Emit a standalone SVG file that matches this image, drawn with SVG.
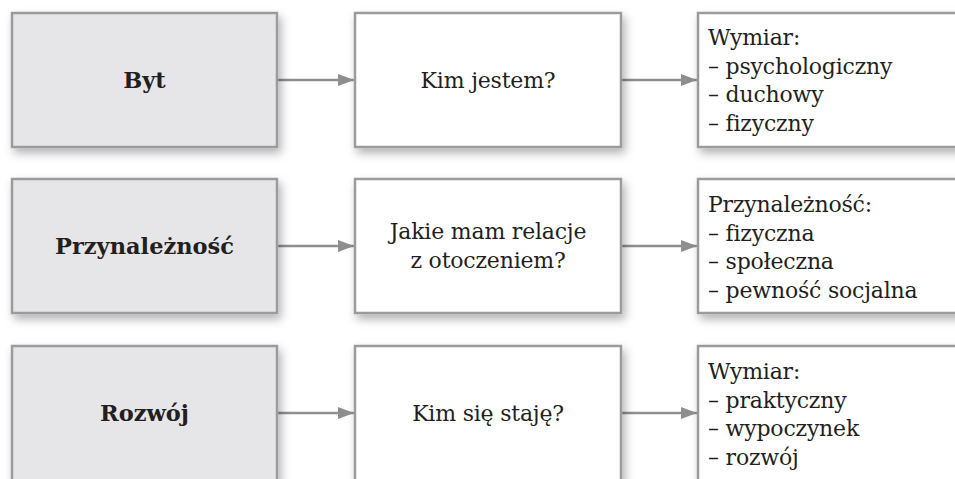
<svg xmlns="http://www.w3.org/2000/svg" width="955" height="479" viewBox="0 0 955 479">
<defs>
<filter id="sh" x="-10%" y="-10%" width="130%" height="140%">
<feDropShadow dx="3" dy="5" stdDeviation="5" flood-color="#000" flood-opacity="0.3"/>
</filter>
<marker id="ah" markerWidth="16" markerHeight="12" refX="16" refY="6" orient="auto" markerUnits="userSpaceOnUse">
<polygon points="0,0 16,6 0,12" fill="#8e8e90"/>
</marker>
<style>
.box{stroke:#9b9b9d;stroke-width:2.5;filter:url(#sh)}
.lb{fill:#e6e6e8}
.wb{fill:#ffffff}
.t{font-family:"DejaVu Serif","Liberation Serif",serif;font-size:22px;letter-spacing:-0.2px;fill:#231f20}
.b{font-weight:bold;text-anchor:middle;font-size:22.5px;letter-spacing:0}
.c{text-anchor:middle}
.con{stroke:#8e8e90;stroke-width:2.5;fill:none;marker-end:url(#ah)}
</style>
</defs>
<rect width="955" height="479" fill="#ffffff"/>
<g id="connectors">
<line class="con" x1="277" y1="80" x2="354" y2="80"/>
<line class="con" x1="621" y1="80" x2="697" y2="80"/>
<line class="con" x1="277" y1="246" x2="354" y2="246"/>
<line class="con" x1="621" y1="246" x2="697" y2="246"/>
<line class="con" x1="277" y1="413" x2="354" y2="413"/>
<line class="con" x1="621" y1="413" x2="697" y2="413"/>
</g>
<g id="byt">
<rect class="box lb" x="12" y="13" width="265" height="134"/>
<text class="t b" x="144.5" y="88">Byt</text>
</g>
<g id="kim-jestem">
<rect class="box wb" x="355" y="13" width="266" height="134"/>
<text class="t c" x="488" y="88">Kim jestem?</text>
</g>
<g id="wymiar1">
<rect class="box wb" x="698" y="13" width="300" height="134"/>
<text class="t" x="708" y="45">Wymiar:<tspan x="708" y="73.5">– psychologiczny</tspan><tspan x="708" y="102">– duchowy</tspan><tspan x="708" y="130.5">– fizyczny</tspan></text>
</g>
<g id="przynaleznosc">
<rect class="box lb" x="12" y="179" width="265" height="134"/>
<text class="t b" x="144.5" y="254">Przynależność</text>
</g>
<g id="relacje">
<rect class="box wb" x="355" y="179" width="266" height="134"/>
<text class="t c" x="488" y="239">Jakie mam relacje<tspan x="488" y="268">z otoczeniem?</tspan></text>
</g>
<g id="przynaleznosc-typy">
<rect class="box wb" x="698" y="179" width="300" height="134"/>
<text class="t" x="708" y="212">Przynależność:<tspan x="708" y="240.5">– fizyczna</tspan><tspan x="708" y="269">– społeczna</tspan><tspan x="708" y="297.5">– pewność socjalna</tspan></text>
</g>
<g id="rozwoj">
<rect class="box lb" x="12" y="346" width="265" height="160"/>
<text class="t b" x="144.5" y="421">Rozwój</text>
</g>
<g id="kim-sie-staje">
<rect class="box wb" x="355" y="346" width="266" height="160"/>
<text class="t c" x="488" y="421">Kim się staję?</text>
</g>
<g id="wymiar3">
<rect class="box wb" x="698" y="346" width="300" height="160"/>
<text class="t" x="708" y="379">Wymiar:<tspan x="708" y="407.5">– praktyczny</tspan><tspan x="708" y="436">– wypoczynek</tspan><tspan x="708" y="464.5">– rozwój</tspan></text>
</g>
</svg>
